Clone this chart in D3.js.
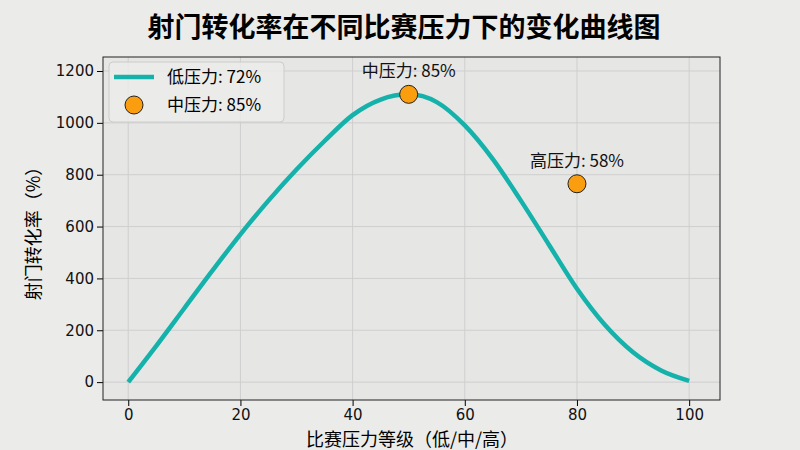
<!DOCTYPE html><html><head><meta charset="utf-8">
<script src="https://cdn.jsdelivr.net/npm/d3@7"></script>
<style>body{margin:0;background:#ebebea;font-family:"Noto Sans CJK SC","DejaVu Sans",sans-serif}</style></head><body>
<svg id="c" width="800" height="450"></svg>
<script>
const xs=[0,5,10,15,20,25,30,35,40,45,50,55,60,65,70,75,80,85,90,95,100];
const ys=[0,140,285,430,570,700,820,930,1030,1090,1110,1080,990,860,700,530,360,220,115,45,5];
const points=[{x:50,y:1110,label:"中压力: 85%"},{x:80,y:765,label:"高压力: 58%"}];
const xTicks=[0,20,40,60,80,100], yTicks=[0,200,400,600,800,1000,1200];
const svg=d3.select("#c");
const L=103,R=720,T=57,B=400;
const x=d3.scaleLinear().domain([-4.5,105.5]).range([L,R]);
const y=d3.scaleLinear().domain([-69,1254]).range([B,T]);
svg.append("rect").attr("width",800).attr("height",450).attr("fill","#ebebea");
svg.append("rect").attr("x",L).attr("y",T).attr("width",R-L).attr("height",B-T).attr("fill","#e6e6e5");
const g=svg.append("g");
xTicks.forEach(t=>g.append("line").attr("x1",x(t)).attr("x2",x(t)).attr("y1",T).attr("y2",B).attr("stroke","#cfcfcf").attr("stroke-width",1));
yTicks.forEach(t=>g.append("line").attr("x1",L).attr("x2",R).attr("y1",y(t)).attr("y2",y(t)).attr("stroke","#cfcfcf").attr("stroke-width",1));
svg.append("path").datum(xs.map((v,i)=>[v,ys[i]])).attr("fill","none").attr("stroke","#14b2aa").attr("stroke-width",4.5)
 .attr("d",d3.line().x(d=>x(d[0])).y(d=>y(d[1])).curve(d3.curveMonotoneX));
points.forEach(p=>{
 svg.append("circle").attr("cx",x(p.x)).attr("cy",y(p.y)).attr("r",9).attr("fill","#fa9d0e").attr("stroke","#222").attr("stroke-width",1);
 svg.append("text").attr("x",x(p.x)).attr("y",y(p.y)-17).attr("text-anchor","middle").attr("font-size",17).attr("fill","#111").text(p.label);
});
svg.append("g").attr("transform",`translate(0,${B})`).call(d3.axisBottom(x).tickValues(xTicks).tickFormat(d3.format("d")).tickSizeOuter(0)).attr("font-size",15).attr("font-family","DejaVu Sans");
svg.append("g").attr("transform",`translate(${L},0)`).call(d3.axisLeft(y).tickValues(yTicks).tickFormat(d3.format("d")).tickSizeOuter(0)).attr("font-size",15).attr("font-family","DejaVu Sans");
svg.selectAll(".domain").remove();
svg.append("rect").attr("x",L).attr("y",T).attr("width",R-L).attr("height",B-T).attr("fill","none").attr("stroke","#222");
svg.selectAll(".tick text").attr("fill","#111");
svg.append("text").attr("x",404).attr("y",37).attr("text-anchor","middle").attr("font-size",27).attr("font-weight","bold").text("射门转化率在不同比赛压力下的变化曲线图");
svg.append("text").attr("x",412).attr("y",446).attr("text-anchor","middle").attr("font-size",18).text("比赛压力等级（低/中/高）");
svg.append("text").attr("transform","translate(40,229) rotate(-90)").attr("text-anchor","middle").attr("font-size",18).text("射门转化率（%）");
const lg=svg.append("g");
lg.append("rect").attr("x",109).attr("y",62).attr("width",175).attr("height",60).attr("rx",4).attr("fill","#ebebea").attr("fill-opacity",0.85).attr("stroke","#cccccc");
lg.append("line").attr("x1",114).attr("x2",154).attr("y1",77).attr("y2",77).attr("stroke","#14b2aa").attr("stroke-width",4.5);
lg.append("circle").attr("cx",134).attr("cy",105).attr("r",9).attr("fill","#fa9d0e").attr("stroke","#222");
lg.append("text").attr("x",167).attr("y",83).attr("font-size",17).text("低压力: 72%");
lg.append("text").attr("x",167).attr("y",111).attr("font-size",17).text("中压力: 85%");
</script></body></html>
